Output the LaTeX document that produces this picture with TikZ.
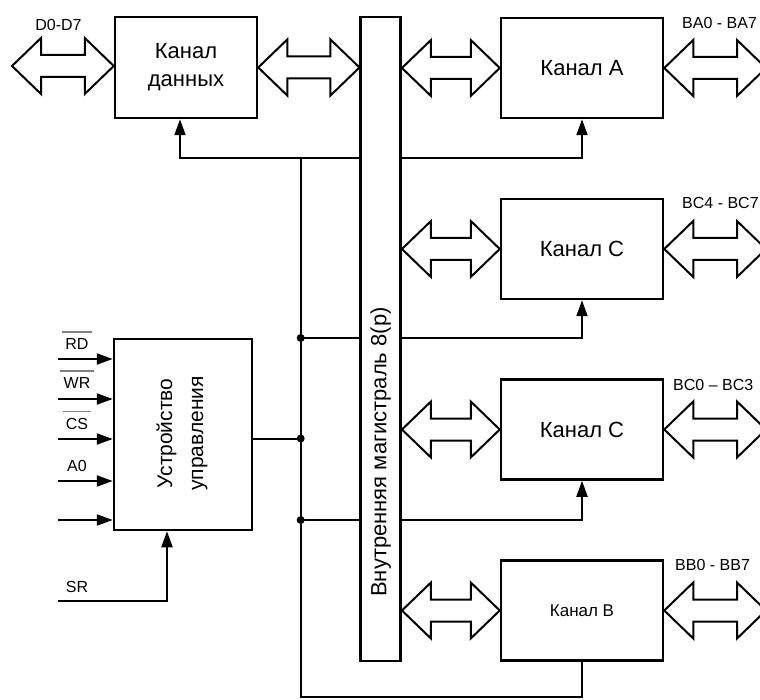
\documentclass[tikz,border=0pt]{standalone}
\usepackage{fontspec}
\setmainfont{Liberation Sans}
\usetikzlibrary{arrows.meta,calc}
\newcommand\hollowarrow[2]{%
  \draw[hollow] let \p1=(#1), \p2=(#2) in
    (\x1,\y1) -- ++(29pt,28pt) -- ++(0pt,-17pt) -- (\x2-29pt,\y1+11pt) -- ++(0pt,17pt)
    -- (\x2,\y1) -- ++(-29pt,-28pt) -- ++(0pt,17pt) -- (\x1+29pt,\y1-11pt) -- ++(0pt,-17pt) -- cycle;}
\begin{document}
\begin{tikzpicture}[x=1pt,y=-1pt,
  box/.style={draw,line width=2.5pt,fill=white,inner sep=0pt},
  chan/.style={box,minimum width=162pt,minimum height=100pt,font=\fontsize{22}{28}\selectfont},
  conn/.style={line width=2pt},
  arr/.style={conn,-{Triangle[length=16pt,width=11pt]}},
  hollow/.style={draw,line width=2pt,line join=miter,fill=white},
  port/.style={font=\fontsize{16}{18}\selectfont,inner sep=0pt},
  lab/.style={font=\fontsize{16}{18}\selectfont,inner sep=0pt},
  bar/.style={line width=1.5pt,gray},
  dot/.style={circle,fill,inner sep=0pt,minimum size=8pt}
]
\useasboundingbox (0,0) rectangle (760,700);
\clip (0,0) rectangle (760,700);

% boxes
\node[box,minimum width=142pt,minimum height=101pt,align=center,font=\fontsize{22}{28}\selectfont] (dk) at (186,67.5) {Канал\\данных};
\node[chan] (ka) at (582,68) {Канал А};
\node[chan] (kc1) at (582,249) {Канал С};
\node[chan] (kc2) at (582,429.5) {Канал С};
\node[chan,font=\fontsize{17}{20}\selectfont] (kb) at (582,610.5) {Канал В};
\node[box,minimum width=138pt,minimum height=191pt] (cu) at (183,434.5) {};
\node[rotate=90,align=center,inner sep=0pt,font=\fontsize{21}{31}\selectfont] (cut) at (182,433.5) {Устройство\\управления};

% control lines
\coordinate (vtop) at (300.7,158);
\coordinate (vbot) at (300.7,697);
\coordinate (j1) at (300.7,338);
\coordinate (j2) at (300.7,438.5);
\coordinate (j3) at (300.7,520);
\draw[arr] (vtop) -| ([xshift=-6pt]dk.south);
\draw[arr] (vtop) -| (ka.south);
\draw[conn] (vtop) -- (vbot) -| (kb.south);
\draw[arr] (j1) -| (kc1.south);
\draw[arr] (j3) -| (kc2.south);
\draw[conn] (j2 -| cu.east) -- (j2);
\node[dot] (d1) at (j1) {};
\node[dot] (d2) at (j2) {};
\node[dot] (d3) at (j3) {};

% internal bus
\node[box,minimum width=40pt,minimum height=643.7pt] (bus) at (380.7,339) {};
\node[rotate=90,inner sep=0pt,font=\fontsize{22}{26}\selectfont] (bust) at (380.7,452) {Внутренняя магистраль 8(р)};

% wide double arrows
\coordinate (dl) at (12,66);
\coordinate (rr) at (766,0);
\hollowarrow{dl}{dl -| dk.west}
\hollowarrow{dk.east}{dk.east -| bus.west}
\hollowarrow{bus.east |- ka.west}{ka.west}
\hollowarrow{bus.east |- kc1.west}{kc1.west}
\hollowarrow{bus.east |- kc2.west}{kc2.west}
\hollowarrow{bus.east |- kb.west}{kb.west}
\hollowarrow{ka.east}{ka.east -| rr}
\hollowarrow{kc1.east}{kc1.east -| rr}
\hollowarrow{kc2.east}{kc2.east -| rr}
\hollowarrow{kb.east}{kb.east -| rr}

% port labels
\node[port] (ld) at (58.5,25) {D0-D7};
\node[port,anchor=west] (lba) at (682,23) {BA0 - BA7};
\node[port,anchor=west] (lbc1) at (682,203) {BC4 - BC7};
\node[port,anchor=west] (lbc2) at (673,385) {BC0 – BC3};
\node[port,anchor=west] (lbb) at (675,565) {BB0 - BB7};

% control inputs
\foreach \yy/\nm in {359/i1,399/i2,439/i3,481/i4,520/i5}
  \coordinate (\nm) at (58,\yy);
\foreach \nm in {i1,i2,i3,i4,i5}
  \draw[arr] (\nm) -- (\nm -| cu.west);
\node[lab] (rd) at (77,344) {RD};
\node[lab] (wr) at (77,383) {WR};
\node[lab] (cs) at (77,424) {CS};
\node[lab] (a0) at (77,466) {A0};
\draw[bar] ([xshift=-3pt,yshift=6.5pt]rd.north west) -- ([xshift=3pt,yshift=6.5pt]rd.north east);
\draw[bar] ([xshift=-3pt,yshift=6.5pt]wr.north west) -- ([xshift=3pt,yshift=6.5pt]wr.north east);
\draw[bar] ([xshift=-3pt,yshift=6.5pt]cs.north west) -- ([xshift=3pt,yshift=6.5pt]cs.north east);
\coordinate (sr) at (58,601);
\draw[arr] (sr) -| ([xshift=-16pt]cu.south);
\node[lab] (srl) at (77,587) {SR};
\end{tikzpicture}
\end{document}
